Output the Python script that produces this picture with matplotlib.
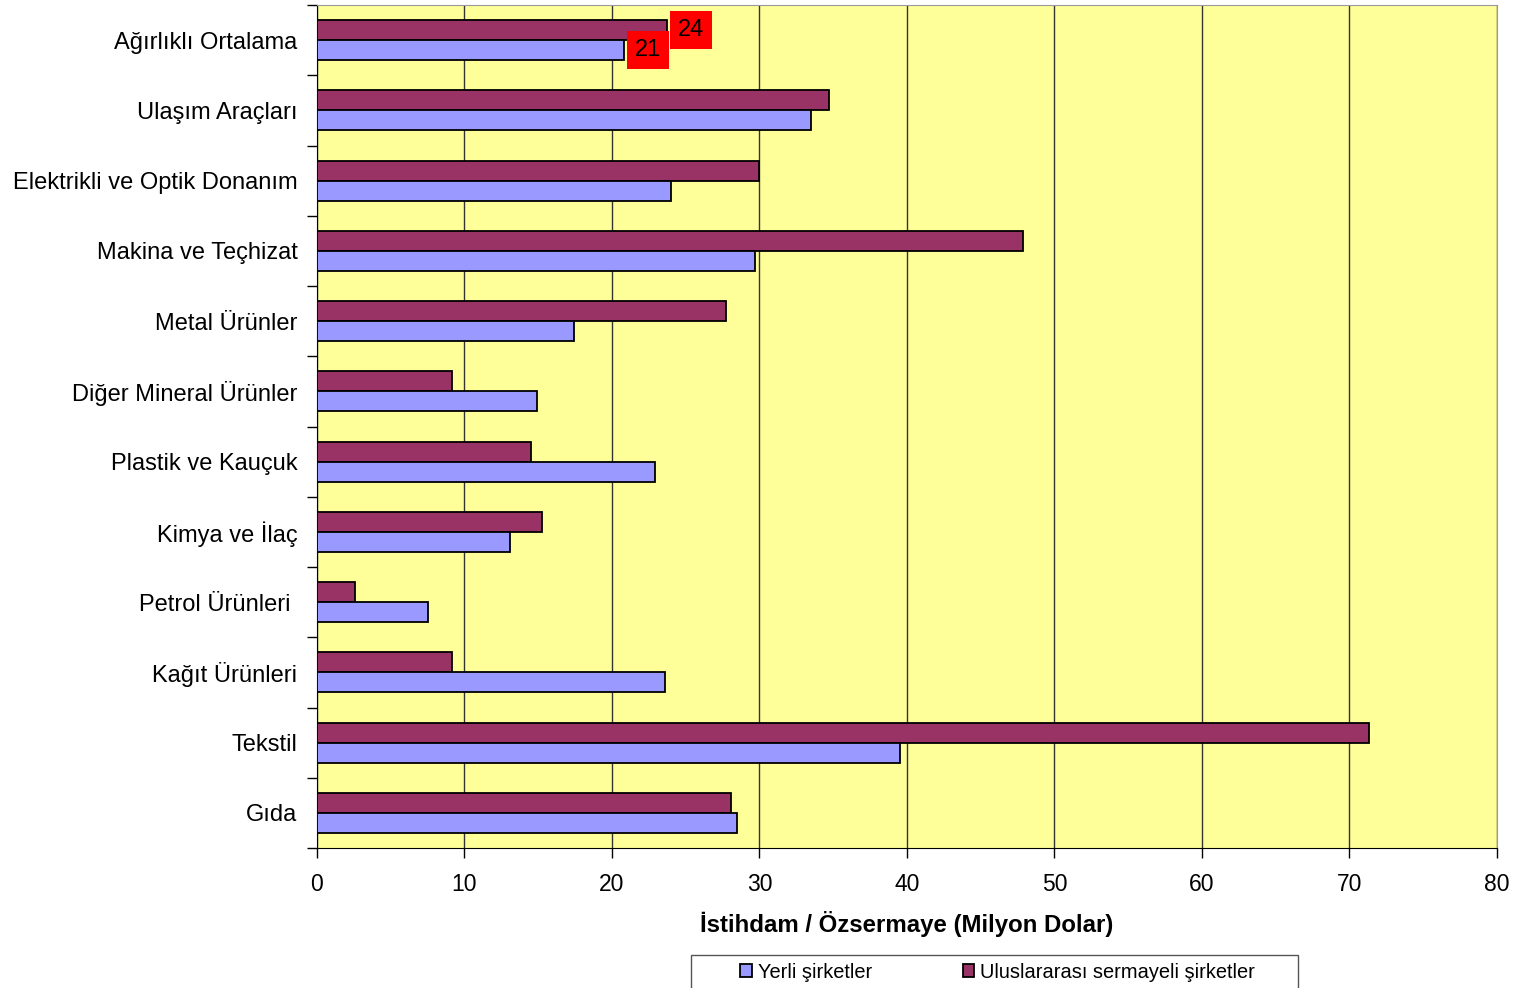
import matplotlib.pyplot as plt
from matplotlib.patches import Rectangle
import numpy as np

plt.rcParams['font.family'] = ['Liberation Sans', 'DejaVu Sans']

categories = ['Ağırlıklı Ortalama', 'Ulaşım Araçları', 'Elektrikli ve Optik Donanım',
    'Makina ve Teçhizat', 'Metal Ürünler', 'Diğer Mineral Ürünler', 'Plastik ve Kauçuk',
    'Kimya ve İlaç', 'Petrol Ürünleri ', 'Kağıt Ürünleri', 'Tekstil', 'Gıda']
yerli = [20.8, 33.5, 24.0, 29.7, 17.4, 14.9, 22.9, 13.1, 7.5, 23.6, 39.5, 28.5]
ulus = [23.7, 34.7, 30.0, 47.9, 27.7, 9.15, 14.5, 15.25, 2.6, 9.15, 71.3, 28.1]
ticks_x = [0, 10, 20, 30, 40, 50, 60, 70, 80]

fig = plt.figure(figsize=(15.15, 9.88), dpi=100)
ax = fig.add_axes([0.2092, 0.1417, 0.9881 - 0.2092, 0.9949 - 0.1417])
ax.set_facecolor('#FFFF99')

y = np.arange(len(categories))
h = 0.285
b_ul = ax.barh(y - h / 2, ulus, height=h, color='#993366', edgecolor='black', linewidth=1.3,
    label='Uluslararası sermayeli şirketler', zorder=3)
b_ye = ax.barh(y + h / 2, yerli, height=h, color='#9999FF', edgecolor='black', linewidth=1.3,
    label='Yerli şirketler', zorder=3)

# data labels only on the first group
for bar, txt in [(b_ul[0], '24'), (b_ye[0], '21')]:
    ax.annotate(txt, (bar.get_width(), bar.get_y() + bar.get_height() / 2),
        xytext=(8, 0), textcoords='offset points', ha='left', va='center', fontsize=17,
        bbox=dict(boxstyle='square,pad=0.33', facecolor='red', edgecolor='none'), zorder=5)

ax.set_xlim(0, 80)
ax.set_ylim(len(categories) - 0.5, -0.5)
ax.set_xticks(ticks_x)
ax.set_xticklabels([str(t) for t in ticks_x], fontsize=16.5)
ax.xaxis.grid(True, color='#333333', linewidth=1.0, zorder=0)
ax.tick_params(axis='x', length=7, width=1, pad=11, direction='out')

ax.set_yticks(np.arange(len(categories) + 1) - 0.5)
ax.set_yticklabels([])
ax.set_yticks(y, minor=True)
ax.set_yticklabels(categories, minor=True, fontsize=17)
ax.tick_params(axis='y', which='major', length=7, width=1, direction='out')
ax.tick_params(axis='y', which='minor', length=0, pad=14)

ax.spines['top'].set_color('#999999')
ax.spines['right'].set_color('#999999')
ax.spines['left'].set_color('black')
ax.spines['bottom'].set_color('black')

ax.set_xlabel('İstihdam / Özsermaye (Milyon Dolar)', fontsize=17.3, fontweight='bold', labelpad=11)

# legend frame drawn by hand, it runs off the bottom of the figure
fig.patches.append(Rectangle((691 / 1515, -0.02), (1298 - 691) / 1515, 0.02 + (988 - 955) / 988,
    transform=fig.transFigure, facecolor='white', edgecolor='#555555', linewidth=1.0))
handles = [b_ye, b_ul]
leg = fig.legend(handles, [h_.get_label() for h_ in handles], loc='center left',
    bbox_to_anchor=(740 / 1515, 1 - 972 / 988), ncol=2, fontsize=14.4, frameon=False,
    handlelength=0.58, handleheight=0.58, handletextpad=0.3, columnspacing=4.55,
    borderpad=0, borderaxespad=0)

fig.savefig('out.png', dpi=100)
